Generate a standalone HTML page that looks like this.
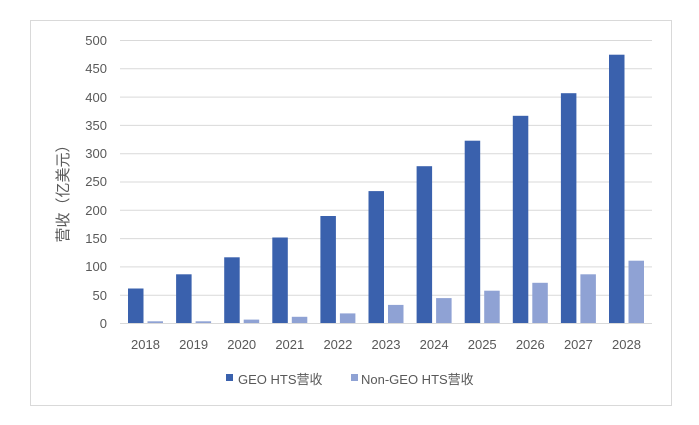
<!DOCTYPE html>
<html><head><meta charset="utf-8"><style>
body{margin:0;background:#fff;}
svg text{font-family:"Liberation Sans","Noto Sans CJK SC",sans-serif;fill:#595959;}
</style></head><body>
<svg width="699" height="420" xmlns="http://www.w3.org/2000/svg">
<rect x="30.5" y="20.5" width="641" height="385" fill="#fff" stroke="#d9d9d9"/>
<g stroke="#d9d9d9" stroke-width="1">
<line x1="120" x2="652" y1="40.5" y2="40.5"/>
<line x1="120" x2="652" y1="68.8" y2="68.8"/>
<line x1="120" x2="652" y1="97.1" y2="97.1"/>
<line x1="120" x2="652" y1="125.4" y2="125.4"/>
<line x1="120" x2="652" y1="153.7" y2="153.7"/>
<line x1="120" x2="652" y1="182" y2="182"/>
<line x1="120" x2="652" y1="210.3" y2="210.3"/>
<line x1="120" x2="652" y1="238.6" y2="238.6"/>
<line x1="120" x2="652" y1="266.9" y2="266.9"/>
<line x1="120" x2="652" y1="295.2" y2="295.2"/>
<line x1="120" x2="652" y1="323.5" y2="323.5"/>
</g>
<g font-size="13" text-anchor="end">
<text x="107" y="45">500</text><text x="107" y="73">450</text><text x="107" y="102">400</text>
<text x="107" y="130">350</text><text x="107" y="158">300</text><text x="107" y="186">250</text>
<text x="107" y="215">200</text><text x="107" y="243">150</text><text x="107" y="271">100</text>
<text x="107" y="300">50</text><text x="107" y="328">0</text>
</g>
<text transform="translate(68,190) rotate(-90)" font-size="15" text-anchor="middle">营收（亿美元）</text>
<g fill="#3a61ad">
<rect x="128" y="288.5" width="15.5" height="34.5"/>
<rect x="176.1" y="274.3" width="15.5" height="48.7"/>
<rect x="224.2" y="257.3" width="15.5" height="65.7"/>
<rect x="272.3" y="237.5" width="15.5" height="85.5"/>
<rect x="320.4" y="216" width="15.5" height="107"/>
<rect x="368.5" y="191.1" width="15.5" height="131.9"/>
<rect x="416.6" y="166.2" width="15.5" height="156.8"/>
<rect x="464.7" y="140.7" width="15.5" height="182.3"/>
<rect x="512.8" y="115.8" width="15.5" height="207.2"/>
<rect x="560.9" y="93.2" width="15.5" height="229.8"/>
<rect x="609" y="54.7" width="15.5" height="268.3"/>
</g>
<g fill="#8fa2d4">
<rect x="147.5" y="321.3" width="15.5" height="1.7"/>
<rect x="195.6" y="321.3" width="15.5" height="1.7"/>
<rect x="243.7" y="319.6" width="15.5" height="3.4"/>
<rect x="291.8" y="316.8" width="15.5" height="6.2"/>
<rect x="339.9" y="313.4" width="15.5" height="9.6"/>
<rect x="388" y="304.9" width="15.5" height="18.1"/>
<rect x="436.1" y="298.1" width="15.5" height="24.9"/>
<rect x="484.2" y="290.7" width="15.5" height="32.3"/>
<rect x="532.3" y="282.8" width="15.5" height="40.2"/>
<rect x="580.4" y="274.3" width="15.5" height="48.7"/>
<rect x="628.5" y="260.7" width="15.5" height="62.3"/>
</g>
<g font-size="13" text-anchor="middle">
<text x="145.5" y="349">2018</text><text x="193.6" y="349">2019</text><text x="241.7" y="349">2020</text>
<text x="289.8" y="349">2021</text><text x="337.9" y="349">2022</text><text x="386" y="349">2023</text>
<text x="434.1" y="349">2024</text><text x="482.2" y="349">2025</text><text x="530.3" y="349">2026</text>
<text x="578.4" y="349">2027</text><text x="626.5" y="349">2028</text>
</g>
<rect x="226" y="374" width="7" height="7" fill="#3a61ad"/>
<text x="238" y="384" font-size="13">GEO HTS营收</text>
<rect x="351" y="374" width="7" height="7" fill="#8fa2d4"/>
<text x="361" y="384" font-size="13">Non-GEO HTS营收</text>
</svg>
</body></html>
